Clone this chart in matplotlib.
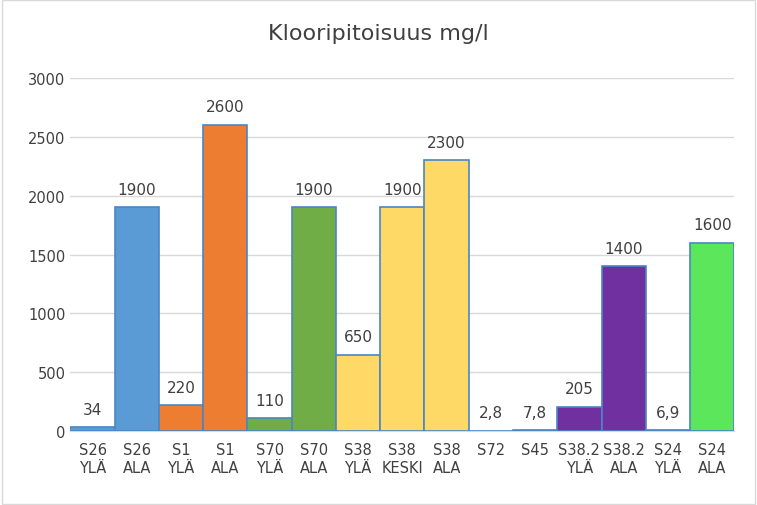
import matplotlib
matplotlib.use('Agg')
import matplotlib.pyplot as plt
from matplotlib.patches import Rectangle

categories = ["S26\nYLÄ", "S26\nALA", "S1\nYLÄ", "S1\nALA", "S70\nYLÄ", "S70\nALA",
              "S38\nYLÄ", "S38\nKESKI", "S38\nALA", "S72", "S45", "S38.2\nYLÄ",
              "S38.2\nALA", "S24\nYLÄ", "S24\nALA"]
values = [34, 1900, 220, 2600, 110, 1900, 650, 1900, 2300, 2.8, 7.8, 205, 1400, 6.9, 1600]
labels = ["34", "1900", "220", "2600", "110", "1900", "650", "1900", "2300",
          "2,8", "7,8", "205", "1400", "6,9", "1600"]
colors = ["#5B9BD5", "#5B9BD5", "#ED7D31", "#ED7D31", "#70AD47", "#70AD47",
          "#FFD966", "#FFD966", "#FFD966", "#FFD966", "#FFD966", "#7030A0",
          "#7030A0", "#5CE65C", "#5CE65C"]

fig = plt.figure(figsize=(7.57, 5.06), dpi=100)
ax = fig.add_axes([0.093, 0.146, 0.877, 0.698])
x = range(len(values))
ax.bar(x, values, width=1.0, color=colors, edgecolor="#4A86C5", linewidth=1.2, zorder=3)
for i, (v, lab) in enumerate(zip(values, labels)):
    ax.text(i, v + 90, lab, ha="center", va="bottom", fontsize=11, color="#404040")

ax.set_xlim(-0.5, len(values) - 0.5)
ax.set_ylim(0, 3000)
ax.set_yticks(range(0, 3001, 500))
ax.set_xticks(list(x))
ax.set_xticklabels(categories, fontsize=10.5, color="#404040")
ax.tick_params(axis="y", labelsize=10.5, labelcolor="#404040", length=0)
ax.tick_params(axis="x", length=0, pad=8)
ax.grid(axis="y", color="#D9D9D9", linewidth=1, zorder=0)
for s in ["top", "right", "left"]:
    ax.spines[s].set_visible(False)
ax.spines["bottom"].set_color("#D9D9D9")

fig.text(0.5, 0.92, "Klooripitoisuus mg/l", ha="center", fontsize=16, color="#404040")
fig.patches.append(Rectangle((0.002, 0.002), 0.996, 0.996, transform=fig.transFigure,
                             fill=False, edgecolor="#D9D9D9", linewidth=1))
fig.savefig("out.png", dpi=100)
